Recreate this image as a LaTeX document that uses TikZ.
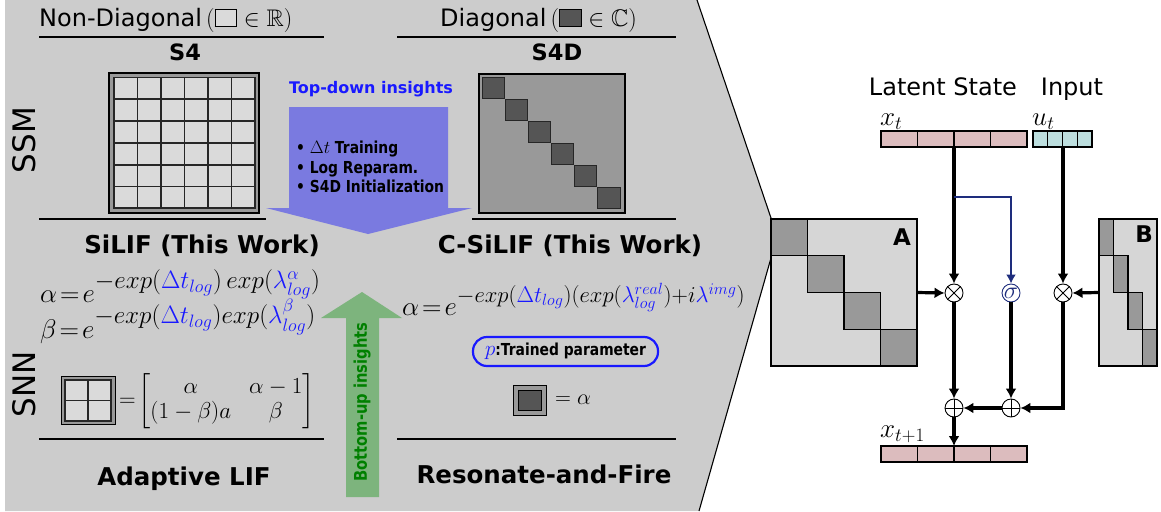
\RequirePackage{fix-cm}
\documentclass[tikz,border=0pt]{standalone}
\usepackage{amsmath,amssymb}
\usepackage{graphicx}
\usepackage{fontspec}
\newfontfamily\dvs{DejaVu Sans}
\newfontfamily\dvsc[FakeStretch=0.84]{DejaVu Sans}
\usetikzlibrary{arrows.meta}
\definecolor{panel}{RGB}{204,204,204}
\definecolor{cellL}{RGB}{218,218,218}
\definecolor{cellM}{RGB}{153,153,153}
\definecolor{cellD}{RGB}{85,85,85}
\definecolor{tdblue}{RGB}{122,122,224}
\definecolor{bugreen}{RGB}{125,180,125}
\definecolor{txtgreen}{RGB}{0,128,0}
\definecolor{pblue}{RGB}{25,25,255}
\definecolor{sigblue}{RGB}{30,45,125}
\definecolor{xcol}{RGB}{220,188,190}
\definecolor{ucol}{RGB}{188,222,222}
\definecolor{matL}{RGB}{214,214,214}
\newcommand{\pb}[1]{\textcolor{pblue}{#1}}
\newcommand{\sqL}{\raisebox{1pt}{\setlength\fboxsep{0pt}\setlength\fboxrule{0.8pt}\fcolorbox{black}{cellL}{\rule{0pt}{16pt}\rule{21pt}{0pt}}}}
\newcommand{\sqD}{\raisebox{1pt}{\setlength\fboxsep{0pt}\setlength\fboxrule{0.8pt}\fcolorbox{black}{cellD}{\rule{0pt}{16pt}\rule{21pt}{0pt}}}}
\tikzset{
  sect/.style={line width=1.3pt},
  hdr/.style={font={\dvs\fontsize{24}{28}\selectfont}, inner sep=0pt},
  ttl/.style={font={\dvs\bfseries\fontsize{24.5}{28}\selectfont}, inner sep=0pt},
  ttls/.style={font={\dvs\bfseries\fontsize{22.5}{26}\selectfont}, inner sep=0pt},
  bul/.style={font={\dvsc\bfseries\fontsize{16.5}{19}\selectfont}, inner sep=0pt, anchor=base west},
  mth/.style={font={\fontsize{27}{30}\selectfont}, inner sep=0pt},
  mths/.style={font={\fontsize{22}{24}\selectfont}, inner sep=0pt},
  bar/.style={draw, line width=1.2pt, minimum height=16pt, inner sep=0pt, outer sep=0pt, anchor=north west},
  mat/.style={draw, fill=matL, line width=1.2pt, minimum height=147pt, inner sep=0pt, outer sep=0pt, anchor=north west},
  blk/.style={draw, fill=cellM, line width=1.2pt},
  op/.style={circle, draw, line width=0.9pt, minimum size=18pt, inner sep=0pt, fill=white},
  flow/.style={line width=3.2pt, -{Latex[length=10pt,width=11pt]}},
  sigline/.style={draw=sigblue, line width=2.8pt, line join=miter, -{Latex[length=9pt,width=10pt]}},
}
\begin{document}
\begin{tikzpicture}[x=1pt,y=-1pt]
\useasboundingbox (0,0) rectangle (1161,511);
% gray panel
\fill[panel] (5,0) -- (697,0) -- (771,218) -- (771,258) -- (699,511) -- (5,511) -- cycle;
\draw[line width=1.1pt] (697,0) -- (771,218) -- (771,258) -- (699,511);

% headers
\node[hdr, anchor=base west] (hl) at (39,27) {Non-Diagonal\,$(\sqL\in\mathbb{R})$};
\node[hdr, anchor=base west] (hr) at (440,27) {Diagonal\,$(\sqD\in\mathbb{C})$};
\draw[sect] (39,37) -- (324,37);
\draw[sect] (397,37) -- (676,37);
\draw[sect] (39,219) -- (266,219);
\draw[sect] (472,219) -- (676,219);
\draw[sect] (39,439) -- (324,439);
\draw[sect] (397,439) -- (676,439);

\node[ttls, anchor=base] (s4) at (185,60) {S4};
\node[ttls, anchor=base] (s4d) at (557,60) {S4D};
\node[ttl, anchor=base] (silif) at (202,253) {SiLIF (This Work)};
\node[ttl, anchor=base] (csilif) at (570,253) {C-SiLIF (This Work)};
\node[ttl, anchor=base] (alif) at (184,485) {Adaptive LIF};
\node[ttl, anchor=base] (rf) at (544,483) {Resonate-and-Fire};

\node[rotate=90, font={\dvs\fontsize{31}{34}\selectfont}, inner sep=0pt] (ssm) at (24,140) {SSM};
\node[rotate=90, font={\dvs\fontsize{31}{34}\selectfont}, inner sep=0pt] (snn) at (24,384) {SNN};

% S4 matrix
\draw[fill=cellM, line width=1.2pt] (109,73) rectangle (259,213);
\foreach \i in {0,...,5}{\foreach \j in {0,...,5}{
  \draw[fill=cellL, draw=black!85, line width=1.8pt] (114+23.5*\i, 77.5+21.8*\j) rectangle ++(23.5,21.8);}}
% S4D matrix
\draw[fill=cellM, line width=1.2pt] (479,74) rectangle (625,213);
\foreach \i in {0,...,5}{
  \draw[fill=cellD, draw=black!85, line width=1pt] (482+23.1*\i, 77+22*\i) rectangle ++(22.5,21.8);}

% top-down arrow
\fill[tdblue] (289,107) -- (448,107) -- (448,208) -- (472,208) -- (368,234) -- (266,208) -- (289,208) -- cycle;
\node[font={\dvs\bfseries\fontsize{16}{18}\selectfont}, text=pblue, inner sep=0pt] (tdi) at (371,89) {Top-down insights};
\node[bul] (b1) at (296,153) {\textbullet\ {\fontsize{18}{19}\selectfont$\Delta t$} Training};
\node[bul] (b2) at (296,173) {\textbullet\ Log Reparam.};
\node[bul] (b3) at (296,192) {\textbullet\ S4D Initialization};

% bottom-up arrow
\fill[bugreen] (346,497) -- (346,318) -- (321,318) -- (362,292) -- (402,318) -- (379,318) -- (379,497) -- cycle;
\node[rotate=90, font={\dvsc\bfseries\fontsize{17.5}{19}\selectfont}, text=txtgreen, inner sep=0pt] (bui) at (362,402) {Bottom-up insights};

% SNN formulas
\node[mth, anchor=base west] (fa) at (40,302) {$\alpha\!=\!e^{\scalebox{1.33}{$\scriptstyle -exp(\pb{\Delta t_{log}})\,exp(\pb{\lambda^{\alpha}_{log}})$}}$};
\node[mth, anchor=base west] (fb) at (40,338) {$\beta\!=\!e^{\scalebox{1.33}{$\scriptstyle -exp(\pb{\Delta t_{log}})exp(\pb{\lambda^{\beta}_{log}})$}}$};
\draw[fill=cellM, line width=1pt] (61,376) rectangle (115,424);
\foreach \i in {0,1}{\foreach \j in {0,1}{
  \draw[fill=cellL, draw=black!85, line width=1.6pt] (65+23*\i, 380+20.5*\j) rectangle ++(23,20.5);}}
\node[font={\fontsize{23}{25}\selectfont}, inner sep=0pt, anchor=west] (mx) at (119,401) {\setlength\arraycolsep{9pt}$=\!\begin{bmatrix}\alpha & \alpha-1\\ (1-\beta)a & \beta\end{bmatrix}$};

\node[mth, anchor=base west] (fc) at (402,315) {$\alpha\!=\!e^{\scalebox{1.2}{$\scriptstyle -exp(\pb{\Delta t_{log}})(exp(\pb{\lambda^{real}_{log}})+i\pb{\lambda^{img}})$}}$};
\node[draw=pblue, line width=2.2pt, rounded corners=14pt, minimum width=185pt, minimum height=29pt, inner sep=2pt, font={\dvsc\bfseries\fontsize{16.5}{18}\selectfont}] (pbox) at (565.5,351.5) {{\fontsize{21}{21}\selectfont$\pb{p}$}:Trained parameter};
\draw[fill=cellM, line width=1pt] (513,385) rectangle (546,415);
\draw[fill=cellD, line width=1pt] (518,390) rectangle (541,410);
\node[mths, anchor=west] (eqa) at (555,400) {$=\alpha$};

% right: SSM block
\node[hdr, anchor=base] (ls) at (943,95) {Latent State};
\node[hdr, anchor=base] (inp) at (1072,95) {Input};
\node[font={\fontsize{27}{29}\selectfont}, inner sep=0pt, anchor=base west] (xtl) at (880,125) {$x_t$};
\node[font={\fontsize{27}{29}\selectfont}, inner sep=0pt, anchor=base west] (utl) at (1032,125) {$u_t$};
\node[font={\fontsize{27}{29}\selectfont}, inner sep=0pt, anchor=base west] (xt1l) at (880,437) {$x_{t+1}$};

\node[bar, fill=xcol, minimum width=146pt] (xt) at (881,131) {};
\node[bar, fill=ucol, minimum width=59pt] (ut) at (1033,131) {};
\node[bar, fill=xcol, minimum width=146pt] (xt1) at (881,446) {};
\foreach \k in {1,2,3}{
  \draw[line width=1.2pt] (881+36.5*\k,131) -- ++(0,16);
  \draw[line width=1.2pt] (881+36.5*\k,446) -- ++(0,16);
  \draw[line width=1.2pt] (1033+14.75*\k,131) -- ++(0,16);}

\node[mat, minimum width=146pt] (A) at (771,219) {};
\foreach \i in {0,...,3}{\draw[blk] (771+36.5*\i, 219+36.75*\i) rectangle ++(36.5,36.75);}
\node[font={\dvs\bfseries\fontsize{23}{25}\selectfont}, inner sep=0pt] (Al) at (902,237) {A};
\node[mat, minimum width=58pt] (B) at (1099,219) {};
\foreach \i in {0,...,3}{\draw[blk] (1099+14.5*\i, 219+36.75*\i) rectangle ++(14.5,36.75);}
\node[font={\dvs\bfseries\fontsize{23}{25}\selectfont}, inner sep=0pt] (Bl) at (1144,234) {B};

\node[op] (m1) at (954,293) {};
\node[op, draw=sigblue, text=sigblue, font={\fontsize{24}{24}\selectfont}] (sg) at (1011,293) {$\sigma$};
\node[op] (m2) at (1063,293) {};
\node[op] (p1) at (954,408) {};
\node[op] (p2) at (1011,408) {};
\draw[line width=0.9pt] (m1.north west) -- (m1.south east) (m1.north east) -- (m1.south west);
\draw[line width=0.9pt] (m2.north west) -- (m2.south east) (m2.north east) -- (m2.south west);
\draw[line width=0.9pt] (p1.north) -- (p1.south) (p1.west) -- (p1.east);
\draw[line width=0.9pt] (p2.north) -- (p2.south) (p2.west) -- (p2.east);

\coordinate (br) at (954,197);
\draw[flow] (m1.north |- xt.south) -- (m1.north);
\draw[sigline] (br) -| (sg.north);
\draw[flow] (m2.north |- ut.south) -- (m2.north);
\draw[flow] (A.east) -- (m1.west);
\draw[flow] (B.west) -- (m2.east);
\draw[flow] (m1.south) -- (p1.north);
\draw[flow] (sg.south) -- (p2.north);
\draw[flow] (m2.south) |- (p2.east);
\draw[flow] (p2.west) -- (p1.east);
\draw[flow] (p1.south) -- (p1.south |- xt1.north);
\end{tikzpicture}
\end{document}
